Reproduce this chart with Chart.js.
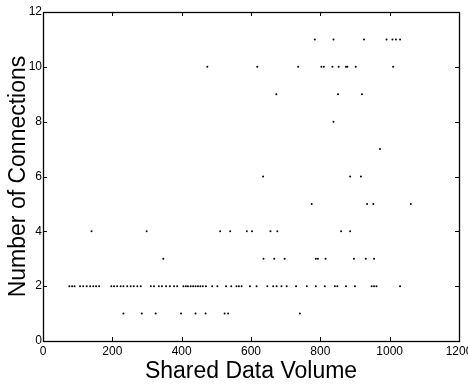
<!DOCTYPE html>
<html>
<head>
<meta charset="utf-8">
<script src="https://cdn.jsdelivr.net/npm/chart.js@4"></script>
<style>
  html, body { margin: 0; padding: 0; background: #fff; overflow: hidden; }
  canvas { display: block; }
</style>
</head>
<body>
<canvas id="chart" width="468" height="388"></canvas>
<script>
// ---------- data: shared volume of each point, grouped by connection count ----------
const connectionLevels = [1, 2, 3, 4, 5, 6, 7, 8, 9, 10, 11];

const volumeAt1 = [232, 285, 325, 398, 440, 469, 524, 534, 741];
const volumeAt2 = [76, 84, 91, 107, 116, 126, 136, 145, 153, 162, 197, 205, 214, 224, 232,
  243, 253, 262, 272, 282, 311, 320, 334, 343, 355, 366, 378, 387, 405, 412, 418, 426,
  433, 440, 447, 454, 461, 470, 488, 503, 528, 543, 558, 565, 573, 597, 616, 647, 664,
  674, 688, 703, 730, 761, 787, 813, 842, 849, 874, 900, 948, 955, 962, 1030];
const volumeAt3 = [347, 636, 667, 697, 787, 793, 815, 897, 931, 955];
const volumeAt4 = [140, 299, 511, 540, 588, 603, 656, 676, 860, 886];
const volumeAt5 = [775, 935, 953, 1061];
const volumeAt6 = [635, 886, 917];
const volumeAt7 = [972];
const volumeAt8 = [838];
const volumeAt9 = [673, 851, 920];
const volumeAt10 = [474, 618, 736, 803, 810, 835, 853, 874, 878, 902, 1010];
const volumeAt11 = [784, 838, 926, 991, 1008, 1018, 1030];

const volumesByLevel = [volumeAt1, volumeAt2, volumeAt3, volumeAt4, volumeAt5, volumeAt6,
  volumeAt7, volumeAt8, volumeAt9, volumeAt10, volumeAt11];

const xTicks = [0, 200, 400, 600, 800, 1000, 1200];
const yTicks = [0, 2, 4, 6, 8, 10, 12];

// build scatter points
const points = [];
connectionLevels.forEach((level, i) => {
  volumesByLevel[i].forEach(v => points.push({ x: v, y: level }));
});

const FONT = "'Liberation Sans', Arial, Helvetica, sans-serif";

// ---------- frame + inward ticks on all four sides ----------
const frameTicks = {
  id: "frameTicks",
  afterDraw(chart) {
    const { ctx, chartArea: a, scales } = chart;
    const len = 4;
    ctx.save();
    ctx.strokeStyle = "#000";
    ctx.lineWidth = 1;
    ctx.beginPath();
    xTicks.forEach(t => {
      const px = Math.round(scales.x.getPixelForValue(t)) + 0.5;
      ctx.moveTo(px, a.bottom); ctx.lineTo(px, a.bottom - len);
      ctx.moveTo(px, a.top); ctx.lineTo(px, a.top + len);
    });
    yTicks.forEach(t => {
      const py = Math.round(scales.y.getPixelForValue(t)) + 0.5;
      ctx.moveTo(a.left, py); ctx.lineTo(a.left + len, py);
      ctx.moveTo(a.right, py); ctx.lineTo(a.right - len, py);
    });
    ctx.stroke();
    ctx.lineWidth = 1.3;
    ctx.strokeRect(Math.round(a.left) + 0.5, Math.round(a.top) + 0.5,
      Math.round(a.right - a.left), Math.round(a.bottom - a.top));
    ctx.restore();
  }
};

new Chart(document.getElementById("chart"), {
  type: "scatter",
  data: {
    datasets: [{
      data: points,
      backgroundColor: "#000",
      borderWidth: 0,
      pointRadius: 1,
      pointHoverRadius: 1
    }]
  },
  options: {
    responsive: false,
    animation: false,
    events: [],
    layout: { padding: { left: 0, right: 9, top: 12, bottom: 0 } },
    plugins: {
      legend: { display: false },
      tooltip: { enabled: false }
    },
    scales: {
      x: {
        type: "linear",
        min: 0,
        max: 1200,
        afterBuildTicks: s => { s.ticks = xTicks.map(v => ({ value: v })); },
        afterFit: s => { s.height = 47; s.paddingLeft = 0; s.paddingRight = 0; },
        grid: { display: false, drawTicks: false },
        border: { display: false },
        ticks: { color: "#000", padding: 3, maxRotation: 0, autoSkip: false,
          callback: v => String(v),
          font: { family: FONT, size: 12 } },
        title: {
          display: true,
          text: "Shared Data Volume",
          color: "#000",
          font: { family: FONT, size: 23 },
          padding: { top: 0, bottom: 3 }
        }
      },
      y: {
        type: "linear",
        min: 0,
        max: 12,
        afterBuildTicks: s => { s.ticks = yTicks.map(v => ({ value: v })); },
        afterFit: s => { s.width = 43; s.paddingTop = 0; s.paddingBottom = 0; },
        grid: { display: false, drawTicks: false },
        border: { display: false },
        ticks: { color: "#000", padding: 1, autoSkip: false,
          callback: v => String(v),
          font: { family: FONT, size: 12 } },
        title: {
          display: true,
          text: "Number of Connections",
          color: "#000",
          font: { family: FONT, size: 23 },
          padding: { top: 5, bottom: 0 }
        }
      }
    }
  },
  plugins: [frameTicks]
});
</script>
</body>
</html>
